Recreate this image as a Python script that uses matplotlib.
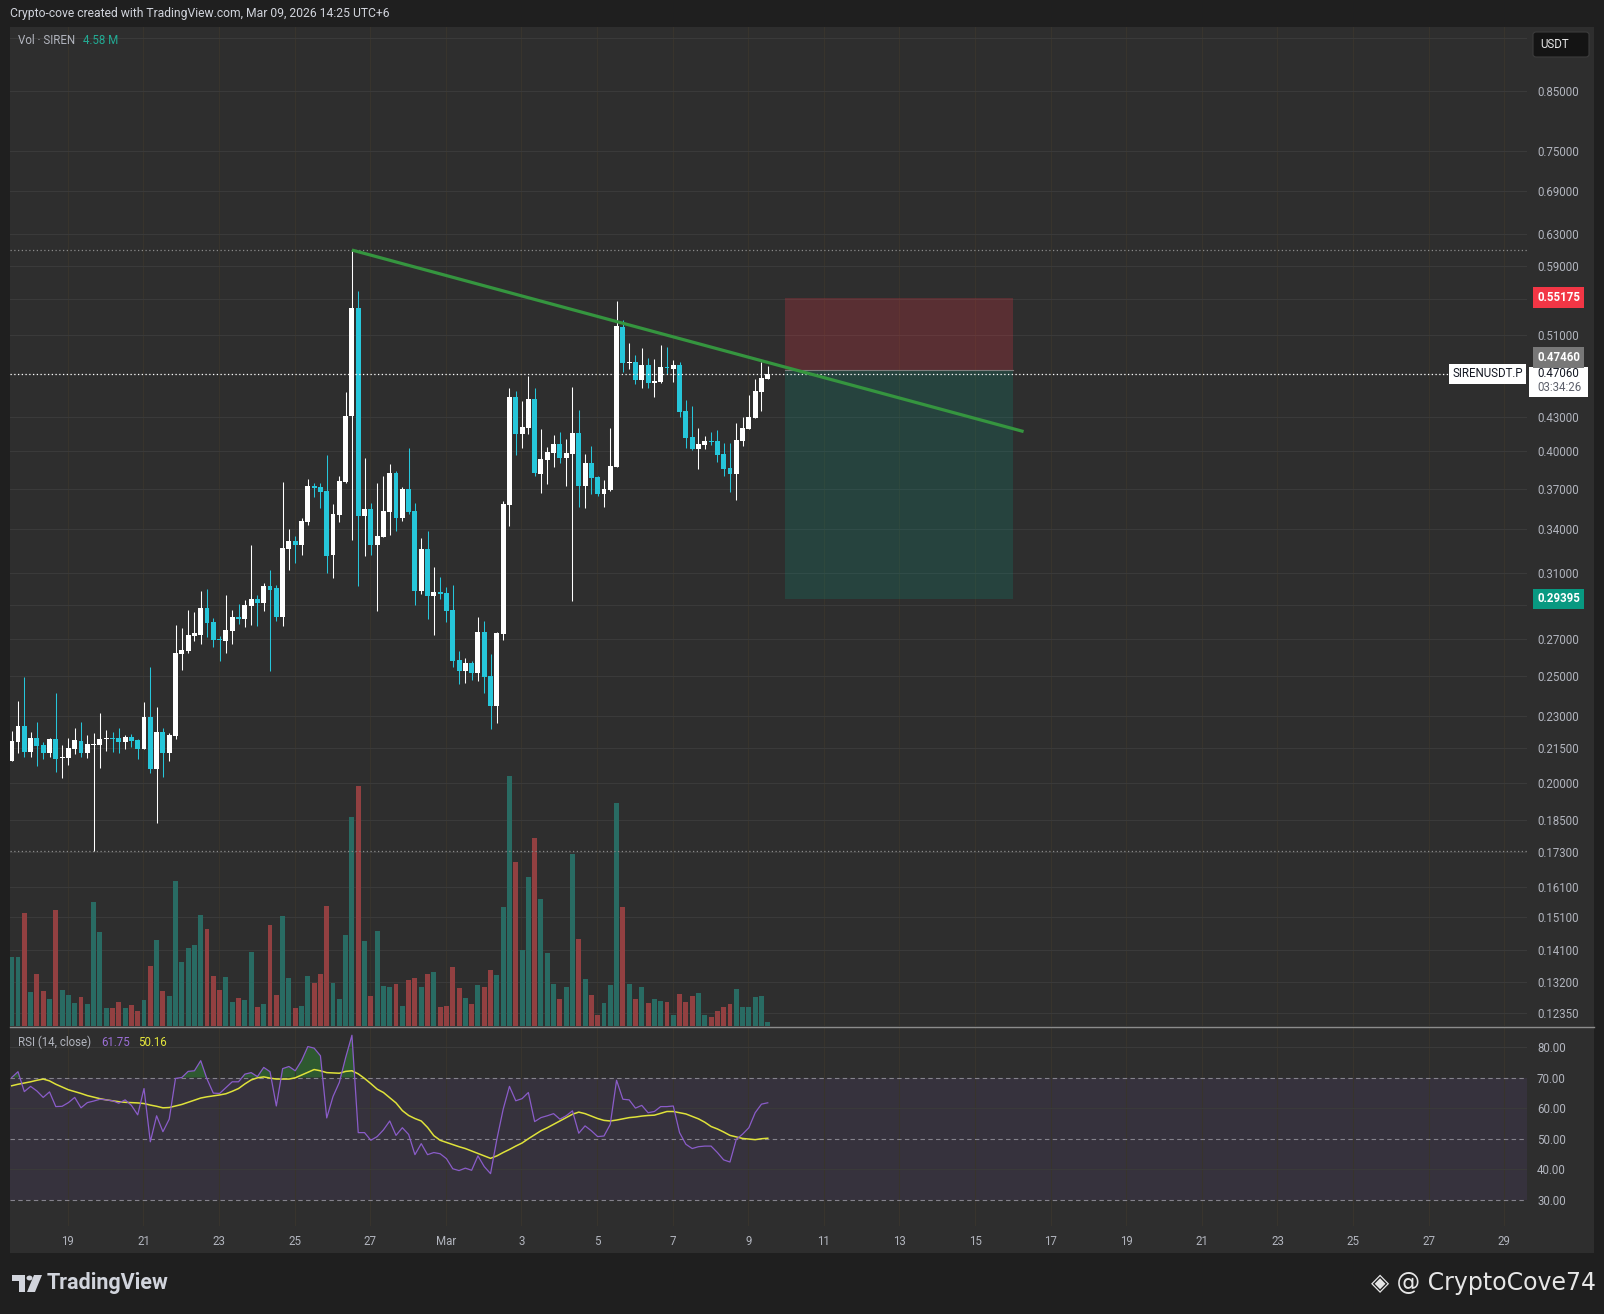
import numpy as np
import matplotlib
matplotlib.use("Agg")
import matplotlib.pyplot as plt
import matplotlib.transforms as mtransforms
from matplotlib.patches import Rectangle, Polygon, Circle, FancyBboxPatch
from matplotlib.lines import Line2D
from matplotlib.ticker import FixedLocator, NullLocator, NullFormatter, FuncFormatter

plt.rcParams['font.family'] = ['Roboto', 'DejaVu Sans']

# ---- 4h candles, SIRENUSDT.P ----
opens = [0.2094, 0.2179, 0.2253, 0.2134, 0.2197, 0.2165, 0.2130, 0.2192, 0.2107, 0.2107,
         0.2148, 0.2183, 0.2130, 0.2165, 0.2165, 0.2192, 0.2197, 0.2197, 0.2179, 0.2202,
         0.2188, 0.2148, 0.2295, 0.2059, 0.2225, 0.2130, 0.2206, 0.2619, 0.2635, 0.2720,
         0.2725, 0.2883, 0.2800, 0.2703, 0.2691, 0.2748, 0.2830, 0.2818, 0.2896, 0.2938,
         0.2914, 0.3019, 0.3007, 0.2830, 0.3262, 0.3317, 0.3289, 0.3452, 0.3721, 0.3713,
         0.3682, 0.3221, 0.3502, 0.3752, 0.4308, 0.5399, 0.3495, 0.3546, 0.3289, 0.3345,
         0.3525, 0.3824, 0.3481, 0.3698, 0.3532, 0.2988, 0.3262, 0.2957, 0.2982, 0.2976,
         0.2871, 0.2586, 0.2528, 0.2570, 0.2517, 0.2742, 0.2501, 0.2349, 0.2731, 0.3576,
         0.4482, 0.4148, 0.4200, 0.4464, 0.3816, 0.3929, 0.3987, 0.4063, 0.3945, 0.3979,
         0.4157, 0.3721, 0.3904, 0.3792, 0.3659, 0.3690, 0.3872, 0.5188, 0.4813, 0.4823,
         0.4645, 0.4793, 0.4616, 0.4626, 0.4773, 0.4753, 0.4793, 0.4353, 0.4123, 0.4021,
         0.4055, 0.4089, 0.4089, 0.3979, 0.3864, 0.3816, 0.4089, 0.4192, 0.4290, 0.4529,
         0.4655]
highs = [0.2229, 0.2374, 0.2496, 0.2225, 0.2272, 0.2179, 0.2197, 0.2414, 0.2165, 0.2197,
         0.2243, 0.2272, 0.2211, 0.2220, 0.2315, 0.2234, 0.2225, 0.2243, 0.2211, 0.2215,
         0.2192, 0.2369, 0.2549, 0.2345, 0.2243, 0.2220, 0.2783, 0.2765, 0.2871, 0.2859,
         0.2988, 0.3000, 0.2824, 0.2720, 0.2963, 0.2871, 0.2908, 0.2932, 0.3289, 0.2963,
         0.3038, 0.3122, 0.3025, 0.3752, 0.3401, 0.3352, 0.3480, 0.3775, 0.3744, 0.3744,
         0.3971, 0.3584, 0.3800, 0.4529, 0.6095, 0.5594, 0.3945, 0.3592, 0.3744, 0.3800,
         0.3896, 0.3840, 0.3713, 0.4029, 0.3592, 0.3338, 0.3387, 0.3142, 0.3076, 0.3013,
         0.3025, 0.2635, 0.2597, 0.2581, 0.2830, 0.2806, 0.2619, 0.2742, 0.3607, 0.4567,
         0.4539, 0.4445, 0.4684, 0.4567, 0.4192, 0.4037, 0.4140, 0.4166, 0.4106, 0.4576,
         0.4362, 0.3979, 0.4046, 0.3800, 0.3768, 0.4200, 0.5479, 0.5265, 0.5018, 0.4893,
         0.4966, 0.4863, 0.4853, 0.4997, 0.4976, 0.4843, 0.4823, 0.4454, 0.4399, 0.4200,
         0.4131, 0.4166, 0.4183, 0.4072, 0.4072, 0.4245, 0.4299, 0.4500, 0.4655, 0.4823,
         0.4783]
lows = [0.2094, 0.2130, 0.2112, 0.2112, 0.2072, 0.2103, 0.2112, 0.2046, 0.2020, 0.2077,
        0.2125, 0.2112, 0.2107, 0.1735, 0.2063, 0.2139, 0.2134, 0.2130, 0.2148, 0.2157,
        0.2103, 0.2148, 0.2042, 0.1839, 0.2025, 0.2094, 0.2192, 0.2533, 0.2624, 0.2691,
        0.2675, 0.2714, 0.2658, 0.2581, 0.2624, 0.2675, 0.2789, 0.2771, 0.2783, 0.2777,
        0.2865, 0.2528, 0.2806, 0.2777, 0.3122, 0.3168, 0.3221, 0.3430, 0.3637, 0.3554,
        0.3103, 0.3070, 0.3452, 0.3744, 0.3324, 0.3019, 0.3214, 0.3221, 0.2865, 0.3345,
        0.3359, 0.3387, 0.3459, 0.3510, 0.2901, 0.2969, 0.2818, 0.2725, 0.2938, 0.2800,
        0.2549, 0.2459, 0.2465, 0.2480, 0.2475, 0.2414, 0.2239, 0.2267, 0.2697, 0.3423,
        0.3971, 0.4029, 0.4148, 0.3800, 0.3667, 0.3737, 0.3872, 0.3904, 0.3721, 0.2926,
        0.3561, 0.3554, 0.3659, 0.3644, 0.3561, 0.3682, 0.3872, 0.4723, 0.4753, 0.4606,
        0.4567, 0.4567, 0.4482, 0.4616, 0.4704, 0.4626, 0.4299, 0.4029, 0.4012, 0.3856,
        0.4021, 0.4055, 0.3912, 0.3800, 0.3675, 0.3614, 0.4046, 0.4192, 0.4290, 0.4353,
        0.4655]
closes = [0.2183, 0.2253, 0.2134, 0.2197, 0.2161, 0.2130, 0.2192, 0.2103, 0.2112, 0.2152,
          0.2188, 0.2130, 0.2170, 0.2170, 0.2192, 0.2197, 0.2192, 0.2179, 0.2202, 0.2183,
          0.2148, 0.2295, 0.2059, 0.2225, 0.2130, 0.2211, 0.2624, 0.2641, 0.2725, 0.2737,
          0.2883, 0.2794, 0.2697, 0.2697, 0.2754, 0.2830, 0.2818, 0.2902, 0.2938, 0.2914,
          0.3019, 0.2994, 0.2830, 0.3269, 0.3317, 0.3289, 0.3459, 0.3721, 0.3706, 0.3675,
          0.3214, 0.3510, 0.3760, 0.4308, 0.5399, 0.3495, 0.3546, 0.3289, 0.3352, 0.3532,
          0.3824, 0.3481, 0.3698, 0.3525, 0.2988, 0.3262, 0.2957, 0.2982, 0.2969, 0.2865,
          0.2581, 0.2528, 0.2570, 0.2517, 0.2742, 0.2496, 0.2349, 0.2737, 0.3584, 0.4482,
          0.4148, 0.4209, 0.4464, 0.3824, 0.3937, 0.3995, 0.4063, 0.3945, 0.3987, 0.4157,
          0.3721, 0.3904, 0.3784, 0.3659, 0.3698, 0.3880, 0.5199, 0.4813, 0.4823, 0.4645,
          0.4793, 0.4616, 0.4635, 0.4773, 0.4763, 0.4793, 0.4344, 0.4114, 0.4021, 0.4063,
          0.4089, 0.4080, 0.3971, 0.3856, 0.3816, 0.4097, 0.4200, 0.4299, 0.4539, 0.4665,
          0.4706]
# volume in millions
volumes = [79, 79, 129, 39, 59, 40, 31, 132, 41, 35,
           26, 33, 25, 141, 107, 21, 21, 27, 21, 24,
           17, 30, 68, 98, 40, 34, 166, 73, 89, 92,
           127, 111, 57, 41, 56, 27, 32, 30, 84, 22,
           25, 115, 35, 125, 55, 21, 23, 57, 49, 59,
           137, 49, 31, 104, 239, 274, 97, 34, 108, 46,
           44, 48, 23, 52, 55, 44, 59, 62, 22, 23,
           67, 43, 32, 25, 47, 44, 64, 58, 136, 285,
           187, 87, 170, 214, 145, 83, 48, 31, 44, 196,
           99, 54, 35, 13, 26, 47, 254, 136, 48, 31,
           44, 26, 31, 29, 27, 13, 36, 27, 34, 38,
           13, 10, 17, 22, 25, 42, 22, 22, 33, 34, 4.58]
rsi = [70.0, 71.9, 65.4, 67.1, 65.6, 63.5, 65.3, 60.5, 60.6, 61.8,
       63.5, 60.1, 61.8, 62.3, 62.9, 62.7, 62.4, 61.6, 62.7, 60.9,
       57.8, 66.4, 49.0, 57.5, 52.3, 56.4, 69.7, 70.0, 72.0, 72.2,
       75.5, 69.5, 64.9, 64.8, 66.7, 68.6, 68.6, 71.1, 71.6, 70.3,
       73.3, 71.9, 60.7, 72.9, 73.6, 72.2, 75.5, 80.1, 79.6, 77.1,
       56.8, 63.8, 68.4, 76.5, 83.8, 52.0, 52.0, 49.5, 50.7, 52.9,
       55.8, 51.1, 53.6, 51.4, 44.8, 48.4, 44.8, 45.5, 45.1, 43.5,
       40.2, 39.6, 40.4, 39.7, 44.4, 40.9, 38.6, 49.8, 59.6, 67.1,
       62.4, 63.1, 65.1, 55.6, 56.9, 57.5, 58.2, 56.4, 57.5, 59.1,
       51.8, 54.2, 52.6, 50.7, 50.9, 54.7, 69.1, 62.9, 62.7, 60.0,
       60.9, 58.5, 58.9, 60.5, 60.5, 60.7, 52.0, 48.2, 46.8, 47.4,
       47.6, 47.6, 45.5, 43.1, 42.4, 49.8, 51.5, 53.6, 58.5, 61.3,
       61.75]
rsi_ma = [67.3, 67.8, 68.2, 68.6, 69.1, 69.5, 68.9, 67.8, 66.9, 66.0,
          65.4, 64.8, 64.1, 63.6, 63.1, 62.7, 62.4, 62.1, 61.9, 61.8,
          61.7, 61.5, 61.0, 60.6, 60.1, 60.2, 60.7, 61.2, 61.9, 62.6,
          63.3, 63.7, 64.0, 64.3, 64.7, 65.5, 66.4, 67.9, 69.2, 69.9,
          70.2, 69.8, 69.5, 69.5, 69.5, 69.9, 70.8, 71.7, 72.6, 72.2,
          71.6, 71.5, 71.4, 72.0, 72.2, 71.2, 69.7, 68.0, 66.2, 65.1,
          63.4, 61.7, 59.2, 57.6, 56.6, 55.8, 53.7, 51.0, 49.5, 48.8,
          48.1, 47.4, 46.8, 46.0, 45.2, 44.4, 43.6, 44.4, 45.5, 46.5,
          47.6, 48.6, 50.0, 51.3, 52.6, 53.6, 54.7, 55.8, 56.9, 58.0,
          58.7, 58.2, 57.4, 56.6, 56.0, 55.8, 56.1, 56.5, 56.9, 57.1,
          57.4, 57.6, 57.7, 58.3, 58.9, 58.9, 58.5, 58.1, 57.3, 56.5,
          55.4, 54.0, 53.2, 52.2, 51.1, 50.6, 50.1, 49.9, 49.7, 50.0,
          50.16]

date_labels = ['19', '21', '23', '25', '27', 'Mar', '3', '5', '7', '9', '11', '13',
               '15', '17', '19', '21', '23', '25', '27', '29']
first_date_bar = 8.9      # bar position of the "19" label
bars_per_label = 12       # 2 days of 4h bars

price_ticks = [0.85, 0.75, 0.69, 0.63, 0.59, 0.51, 0.43, 0.40, 0.37, 0.34, 0.31,
               0.27, 0.25, 0.23, 0.215, 0.20, 0.185, 0.173, 0.161, 0.151, 0.141, 0.132, 0.1235]
hidden_grid = [0.95, 0.55, 0.47, 0.29]   # grid levels whose labels sit under the price tags
rsi_ticks = [30, 40, 50, 60, 70, 80]

# trend line and short position
trend_x = [54, 160.6]
trend_y = [0.6095, 0.417]
pos_x = [122.7, 158.9]
stop_price, entry_price, target_price = 0.55175, 0.4746, 0.29395
last_price = 0.4706
countdown = "03:34:26"

# ---- colours ----
BG = '#1f1f1f'
PANEL = '#2e2e2e'
TXT = '#b2b5be'
UP, DN = '#ffffff', '#26c6da'
VUP, VDN = '#296b63', '#924041'

W, H = 1604, 1314


def box(x0, y0, x1, y1):
    return [x0 / W, 1 - y1 / H, (x1 - x0) / W, (y1 - y0) / H]


def px(x, y):
    return (x / W, 1 - y / H)


fig = plt.figure(figsize=(W / 100, H / 100), dpi=100, facecolor=BG)
fig.add_artist(Rectangle(px(10, 1253), (1594 - 10) / W, (1253 - 27) / H,
                         transform=fig.transFigure, fc=PANEL, ec='none', zorder=-5))

idx = np.arange(len(closes))
o = np.array(opens); c = np.array(closes)
hi = np.array(highs); lo = np.array(lows)
up = c >= o
xlim = (-0.27, 240.5)
ylim = (0.1203, 0.9717)
date_pos = first_date_bar + bars_per_label * np.arange(len(date_labels))

main_rect = box(10, 27, 1527, 1026)

# grid layer
ax_g = fig.add_axes(main_rect, facecolor='none', zorder=1)
ax_g.set_yscale('log')
ax_g.set_xlim(*xlim); ax_g.set_ylim(*ylim)
ax_g.yaxis.set_major_locator(FixedLocator(price_ticks + hidden_grid))
ax_g.yaxis.set_minor_locator(NullLocator())
ax_g.set_xticks(date_pos)
ax_g.grid(axis='y', color='#3a3a3a', lw=0.8)
ax_g.grid(axis='x', color='#38342d', lw=0.8)
ax_g.tick_params(length=0, labelleft=False, labelbottom=False)
for s in ax_g.spines.values():
    s.set_visible(False)

# volume layer
ax_v = fig.add_axes(main_rect, facecolor='none', zorder=2)
ax_v.bar(idx, volumes, width=0.78, color=np.where(up, VUP, VDN), linewidth=0)
ax_v.set_xlim(*xlim)
ax_v.set_ylim(0, 1140)
ax_v.axis('off')

# price layer
ax = fig.add_axes(main_rect, facecolor='none', zorder=3)
ax.set_yscale('log')
ax.set_xlim(*xlim); ax.set_ylim(*ylim)
cols = np.where(up, UP, DN)
ax.vlines(idx, lo, hi, colors=cols, linewidth=0.75, zorder=4)
body_lo = np.minimum(o, c)
body_h = np.maximum(np.abs(c - o), body_lo * 0.003)
ax.bar(idx, body_h, bottom=body_lo, width=0.78, color=cols, linewidth=0, zorder=5)

ax.axhline(max(highs), color='#8a8a8a', lw=0.9, ls=(0, (1, 2)), zorder=3)
ax.axhline(min(lows), color='#8a8a8a', lw=0.9, ls=(0, (1, 2)), zorder=3)
ax.axhline(last_price, xmin=0, xmax=(1452 - 10) / 1517, color='white', lw=0.9,
           ls=(0, (1, 2)), zorder=6)

ax.add_patch(Rectangle((pos_x[0], entry_price), pos_x[1] - pos_x[0], stop_price - entry_price,
                       fc='#f23645', alpha=0.22, ec='none', zorder=2))
ax.add_patch(Rectangle((pos_x[0], target_price), pos_x[1] - pos_x[0], entry_price - target_price,
                       fc='#089981', alpha=0.2, ec='none', zorder=2))
ax.plot(pos_x, [entry_price, entry_price], color='#7d7d7d', lw=0.8, zorder=3)
ax.plot(trend_x, trend_y, color='#35953f', lw=2.3, solid_capstyle='butt', zorder=7)

ax.yaxis.set_major_locator(FixedLocator(price_ticks))
ax.yaxis.set_major_formatter(FuncFormatter(lambda v, _: f"{v:.5f}"))
ax.yaxis.set_minor_locator(NullLocator())
ax.yaxis.set_minor_formatter(NullFormatter())
ax.yaxis.tick_right()
ax.set_xticks([])
ax.tick_params(axis='y', length=0, pad=7.2, labelsize=8.3, labelcolor=TXT)
for s in ax.spines.values():
    s.set_visible(False)


def axis_label(price, text, fc, tc, dy=0, bold=True, bbox=True):
    ax.annotate(text, xy=(1, price), xycoords=('axes fraction', 'data'),
                xytext=(10, dy), textcoords='offset pixels', ha='left', va='center',
                fontsize=8.3, fontweight='bold' if bold else 'normal', color=tc,
                bbox=dict(boxstyle='square,pad=0.32', fc=fc, ec='none') if bbox else None,
                annotation_clip=False, zorder=10)


axis_label(stop_price, f"{stop_price:.5f}", '#f23645', 'white')
axis_label(target_price, f"{target_price:.5f}", '#089981', 'white')
axis_label(entry_price, f"{entry_price:.5f}", '#787878', 'white', dy=12)

# white two-line tag for the last price (box in pixels, anchored at the price level)
tag_anchor = mtransforms.ScaledTranslation(1, last_price, ax.get_yaxis_transform())
ax.add_patch(Rectangle((2, -23.5), 59, 30.5, transform=tag_anchor, fc='white', ec='none',
                       clip_on=False, zorder=9))
axis_label(last_price, f"{last_price:.5f}", None, '#131722', bold=False, bbox=False)
axis_label(last_price, countdown, None, '#5d606b', dy=-14, bold=False, bbox=False)
ax.annotate("SIRENUSDT.P", xy=(1, last_price), xycoords=('axes fraction', 'data'),
            xytext=(-4, 0), textcoords='offset pixels', ha='right', va='center',
            fontsize=8.3, color='#131722',
            bbox=dict(boxstyle='square,pad=0.3', fc='white', ec='none'),
            annotation_clip=False, zorder=10)

# ---- RSI pane ----
ax_r = fig.add_axes(box(10, 1027, 1527, 1226), facecolor='none', zorder=1)
ax_r.set_xlim(*xlim)
ax_r.set_ylim(21.5, 86.5)
ax_r.axhspan(30, 70, color='#7e57c2', alpha=0.1, lw=0)
for lvl in [40, 60, 80]:
    ax_r.axhline(lvl, color='#3a3a3a', lw=0.8)
for lvl in [30, 50, 70]:
    ax_r.axhline(lvl, color='#85838c', lw=0.8, ls=(0, (4, 3)))
rsi_arr = np.array(rsi)
ax_r.fill_between(idx, rsi_arr, 70, where=rsi_arr > 70, interpolate=True,
                  color='#2e7d32', alpha=0.55, lw=0)
ax_r.plot(idx, rsi_ma, color='#dfe23a', lw=1.1, zorder=4)
ax_r.plot(idx, rsi, color='#8a5cc9', lw=0.9, zorder=5)
ax_r.set_yticks(rsi_ticks, [f"{t:.2f}" for t in rsi_ticks])
ax_r.yaxis.tick_right()
ax_r.set_xticks(date_pos, date_labels)
ax_r.grid(axis='x', color='#38342d', lw=0.8)
ax_r.tick_params(axis='y', length=0, pad=7.2, labelsize=8.3, labelcolor=TXT)
ax_r.tick_params(axis='x', length=0, pad=6.5, labelsize=8.3, labelcolor=TXT)
for s in ax_r.spines.values():
    s.set_visible(False)

fig.add_artist(Line2D([10 / W, 1594 / W], [1 - 1026.5 / H] * 2, transform=fig.transFigure,
                      color='#8c8c8c', lw=1.0, zorder=6))

# ---- texts ----
fig.text(*px(10, 14), "Crypto-cove created with TradingView.com, Mar 09, 2026 14:25 UTC+6",
         color='#d1d4dc', fontsize=8.7, va='center')
fig.text(*px(18, 41), "Vol · SIREN", color=TXT, fontsize=8.3, va='center', zorder=8)
fig.text(*px(83, 41), "4.58 M", color='#22ab94', fontsize=8.3, va='center', zorder=8)
fig.text(*px(18, 1042), "RSI (14, close)", color=TXT, fontsize=8.3, va='center', zorder=8)
fig.text(*px(101, 1042), f"{rsi[-1]:.2f}", color='#9b6fd6', fontsize=8.3, va='center', zorder=8)
fig.text(*px(138, 1042), f"{rsi_ma[-1]:.2f}", color='#e4e63c', fontsize=8.3, va='center', zorder=8)

fig.add_artist(FancyBboxPatch(px(1533, 57), 56 / W, 25 / H, transform=fig.transFigure,
                              boxstyle='round,pad=0,rounding_size=0.002',
                              fc='#141414', ec='#3c3c3c', lw=0.8, zorder=8))
fig.text(*px(1555, 44.5), "USDT", color='#e8e8e8', fontsize=8.3, ha='center', va='center', zorder=9)

# footer: logo + name + watermark
logo = '#d1d4dc'
fig.add_artist(Polygon([px(12, 1275), px(25, 1275), px(25, 1292), px(19, 1292),
                        px(19, 1281), px(12, 1281)], closed=True, transform=fig.transFigure,
                       fc=logo, ec='none'))
fig.add_artist(Circle(px(29.5, 1278), 3 / W, transform=fig.transFigure, fc=logo, ec='none'))
fig.add_artist(Polygon([px(34, 1275), px(42, 1275), px(35, 1292), px(27, 1292)], closed=True,
                       transform=fig.transFigure, fc=logo, ec='none'))
fig.text(*px(47, 1283), "TradingView", color=logo, fontsize=15.5, fontweight='bold',
         va='center', family=['Roboto', 'DejaVu Sans'])
fig.text(*px(1596, 1283), "◈ @ CryptoCove74", color='#e6e6e6', fontsize=17,
         ha='right', va='center', family=['DejaVu Sans'])

fig.savefig("out.png", dpi=100, facecolor=BG)
